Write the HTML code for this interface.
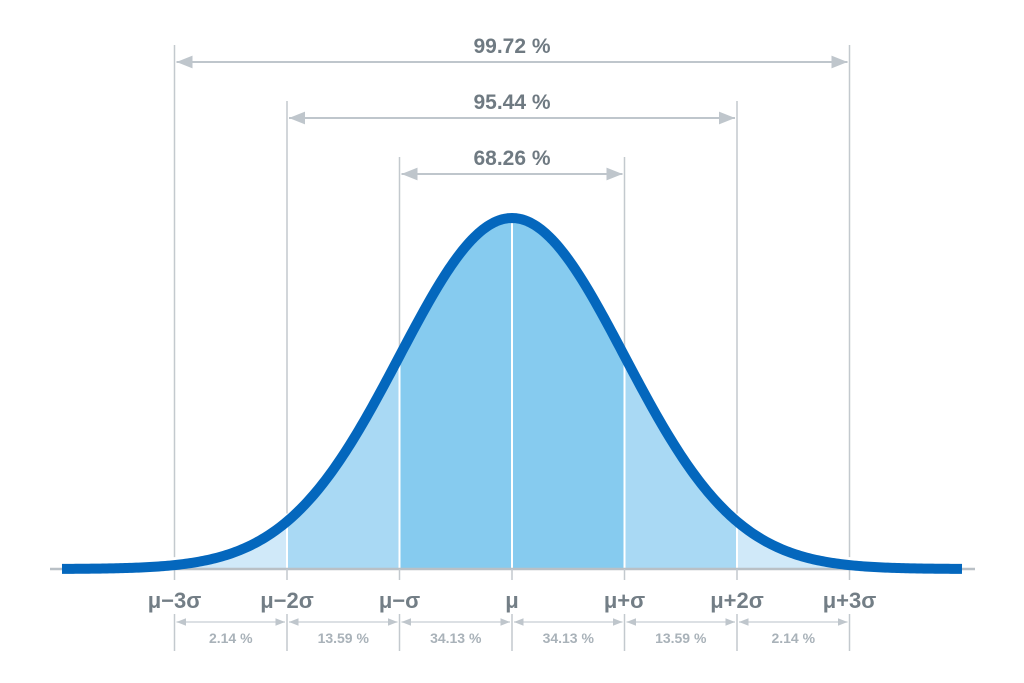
<!DOCTYPE html>
<html><head><meta charset="utf-8"><style>
html,body{margin:0;padding:0;background:#fff;}
svg{display:block;font-family:"Liberation Sans",sans-serif;}
</style></head><body>
<svg id="chart" width="1024" height="683" viewBox="0 0 1024 683">
<defs>
<marker id="arr" viewBox="0 0 10 10" refX="10" refY="5" markerWidth="8" markerHeight="8" orient="auto-start-reverse"><path d="M0,1 L10,5 L0,9 z" fill="#bfc6cc"/></marker>
</defs>
<g id="fills"></g>
<g id="guides"></g>
<g id="curve"></g>
<g id="labels"></g>
</svg>
<script>
const sigmaLabels=["μ−3σ","μ−2σ","μ−σ","μ","μ+σ","μ+2σ","μ+3σ"];
const sigmaSteps=[-3,-2,-1,0,1,2,3];
const bandPercents=["2.14 %","13.59 %","34.13 %","34.13 %","13.59 %","2.14 %"];
const spanLabels=["68.26 %","95.44 %","99.72 %"];
const spanSigmas=[1,2,3];
const bandColors=["#d0e9f9","#a9d9f4","#86cbef","#86cbef","#a9d9f4","#d0e9f9"];

const NS="http://www.w3.org/2000/svg";
const mu=512,sig=112.5,base=569,amp=351;
const X=s=>mu+s*sig;
const Y=s=>base-amp*Math.exp(-s*s/2);
function el(t,a,p){const e=document.createElementNS(NS,t);for(const k in a)e.setAttribute(k,a[k]);p.appendChild(e);return e;}
const fills=document.getElementById('fills'),guides=document.getElementById('guides'),curveG=document.getElementById('curve'),labels=document.getElementById('labels');

// band fills
for(let i=0;i<6;i++){
 const a=sigmaSteps[i],b=sigmaSteps[i+1];
 let d=`M${X(a)},${base}`;
 for(let s=a;s<=b+1e-9;s+=0.02)d+=` L${X(s)},${Y(s)}`;
 d+=` L${X(b)},${base} Z`;
 const p=el('path',{d,fill:bandColors[i]},fills);
 
 
}
// white dividers inside fill
for(let i=1;i<6;i++){
 const s=sigmaSteps[i];
 const l=el('line',{x1:X(s),x2:X(s),y1:Y(s),y2:base,stroke:'#fff','stroke-width':2},fills);
 
 
}
// top guide lines & spans
const spanY=[174,118,62];
for(let j=0;j<3;j++){
 const k=spanSigmas[j];
 for(const sgn of [-1,1]){
  const s=sgn*k;
  const l=el('line',{x1:X(s),x2:X(s),y1:spanY[j]-17,y2:Y(s)-8,stroke:'#c3c9ce','stroke-width':1.5},guides);
  
  
 }
 const a=el('line',{x1:X(-k)+2,x2:X(k)-2,y1:spanY[j],y2:spanY[j],stroke:'#bfc6cc','stroke-width':2,'marker-start':'url(#arr)','marker-end':'url(#arr)'},guides);
 
 
 const t=el('text',{x:mu,y:spanY[j]-9,'text-anchor':'middle','font-size':21,'font-weight':'bold',fill:'#6f7a82'},labels);
 t.textContent=spanLabels[j];
 
 
}
// baseline
const bl=el('line',{x1:50,x2:975,y1:base,y2:base,stroke:'#b9c0c6','stroke-width':2.5},guides);


// ticks and lower guides
for(let i=0;i<7;i++){
 const s=sigmaSteps[i];
 const t=el('line',{x1:X(s),x2:X(s),y1:base,y2:580,stroke:'#c3c9ce','stroke-width':1.5},guides);
 
 
 const g=el('line',{x1:X(s),x2:X(s),y1:614,y2:651,stroke:'#c3c9ce','stroke-width':1.5},guides);
 
 
 const tx=el('text',{x:X(s),y:608,'text-anchor':'middle','font-size':22,'font-weight':'bold',fill:'#737e86'},labels);
 tx.textContent=sigmaLabels[i];
 
 
}
for(let i=0;i<6;i++){
 const a=sigmaSteps[i],b=sigmaSteps[i+1];
 const l=el('line',{x1:X(a)+2,x2:X(b)-2,y1:622,y2:622,stroke:'#c8ced3','stroke-width':1.2,'marker-start':'url(#arr)','marker-end':'url(#arr)'},guides);
 
 
 const t=el('text',{x:(X(a)+X(b))/2,y:643,'text-anchor':'middle','font-size':14,'font-weight':'bold',fill:'#a9b2b9'},labels);
 t.textContent=bandPercents[i];
 
 
}
// curve
let d='';
for(let s=-4;s<=4.0001;s+=0.02)d+=(d?' L':'M')+X(s)+','+Y(s);
const c=el('path',{d,fill:'none',stroke:'#0467bd','stroke-width':10,'stroke-linejoin':'round'},curveG);


</script>
</body></html>
